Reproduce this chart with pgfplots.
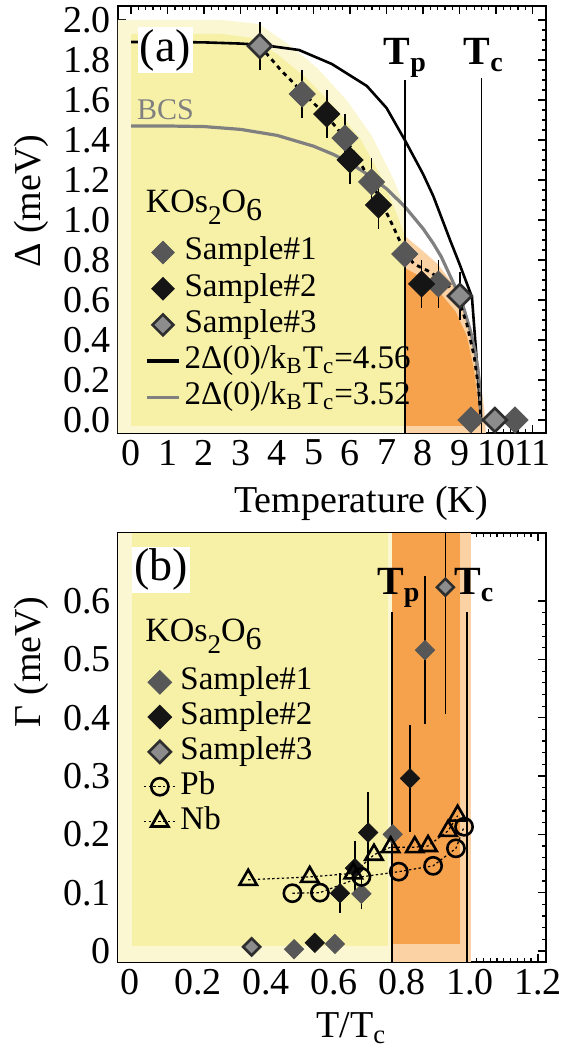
\documentclass[border=0pt]{standalone}
\usepackage{fontspec}
\setmainfont{Liberation Serif}
\usepackage{pgfplots}
\pgfplotsset{compat=1.18}

\definecolor{yel}{HTML}{F7F1A8}
\definecolor{yelsoft}{HTML}{FBF7D2}
\definecolor{orng}{HTML}{F6A24C}
\definecolor{orngsoft}{HTML}{FAD2A4}
\definecolor{sone}{HTML}{575757}
\definecolor{stwo}{HTML}{151515}
\definecolor{sthree}{HTML}{8C8C8C}
\definecolor{sedge}{HTML}{2E2E2E}
\definecolor{bcsgray}{HTML}{808080}

\newcommand{\kos}{KOs\lower6pt\hbox{\fontsize{13.5}{13.5}\selectfont 2}O\lower4pt\hbox{\fontsize{16}{16}\selectfont 6}}

\pgfplotsset{
  gapaxis/.style={
    scale only axis, width=214pt,
    axis line style={line width=1pt},
    tick align=inside,
    major tick length=4pt, minor tick length=2pt,
    major tick style={black, line width=0.7pt},
    minor tick style={black, line width=0.6pt},
    tick label style={font=\fontsize{19}{19}\selectfont},
    label style={font=\fontsize{19}{19}\selectfont},
    /pgf/number format/assume math mode=true,
    legend image code/.code={\draw[mark repeat=2,mark phase=2,##1] plot coordinates {(0pt,0pt)(8pt,0pt)(16pt,0pt)};},
    legend style={draw=none, fill=none, inner sep=0pt, anchor=north west,
      font=\fontsize{16.5}{16.5}\selectfont,
      nodes={inner ysep=0pt, text height=11.5pt, text depth=4pt},
      /tikz/every even column/.append style={column sep=2.5pt}},
    legend cell align=left,
  },
  ebar/.style={error bars/.cd, y dir=both, y explicit,
    error bar style={black, line width=0.8pt},
    error mark options={black, line width=0.8pt, mark size=2pt}, /pgfplots/.cd},
  sA/.style={only marks, mark=square*, mark options={rotate=45, fill=sone, draw=sone, line width=0.4pt}},
  sB/.style={only marks, mark=square*, mark options={rotate=45, fill=stwo, draw=stwo, line width=0.4pt}},
  sC/.style={only marks, mark=square*, mark options={rotate=45, fill=sthree, draw=sedge, line width=1.3pt}},
}

\begin{document}
\begin{tikzpicture}
\useasboundingbox (0,0) rectangle (285.5pt,524pt);

% ---------------- (a) gap vs temperature ----------------
\begin{axis}[gapaxis, at={(59pt,521pt)}, anchor=north west, height=213.5pt,
  xmin=-0.36, xmax=11.37, ymin=-0.065, ymax=2.07,
  xtick={0,1,2,3,4,5,6,7,8,9,10,11}, minor x tick num=4,
  ytick={0,0.2,0.4,0.6,0.8,1.0,1.2,1.4,1.6,1.8,2.0},
  yticklabels={0.0,0.2,0.4,0.6,0.8,1.0,1.2,1.4,1.6,1.8,2.0},
  minor y tick num=3,
  xlabel={Temperature (K)}, ylabel={Δ (meV)},
  xlabel style={at={(axis description cs:0.568,-0.187)}, anchor=base},
  ylabel style={at={(axis description cs:-0.203,0.543)}, anchor=center},
  clip=false,
  legend style={at={(0.063,0.46)}, row sep=2.6pt},
]
% shaded regions
\addplot[draw=none, fill=yelsoft, forget plot] coordinates {
  (-0.36,2.0) (2.5,2.0) (3.5,1.98) (4.3,1.88) (5.1,1.76) (5.9,1.60) (6.6,1.42)
  (7.2,1.20) (7.5,1.06) (7.5,-0.065) (-0.36,-0.065)};
\addplot[draw=none, fill=yel, forget plot] coordinates {
  (0.0,1.93) (2.5,1.93) (3.3,1.91) (4.0,1.83) (4.8,1.71) (5.6,1.56) (6.3,1.40)
  (6.9,1.20) (7.3,1.02) (7.5,0.92) (7.5,-0.03) (0.0,-0.03)};
\addplot[draw=none, fill=orngsoft, forget plot] coordinates {
  (7.5,0.92) (7.9,0.86) (8.4,0.78) (8.9,0.66) (9.25,0.50) (9.5,0.30)
  (9.68,0.05) (9.72,-0.065) (7.5,-0.065)};
\addplot[draw=none, fill=orng, forget plot] coordinates {
  (7.5,0.76) (7.9,0.72) (8.4,0.65) (8.9,0.54) (9.2,0.42) (9.4,0.25)
  (9.53,0.05) (9.56,-0.03) (7.5,-0.03)};

% gap curves
\addplot[black, line width=1.3pt, forget plot] coordinates {
  (0,1.89) (1,1.89) (2,1.888) (3,1.882) (3.6,1.875) (4.6,1.85) (5.5,1.78)
  (6.46,1.67) (7.0,1.56) (7.5,1.40) (8.0,1.23) (8.28,1.12) (8.74,0.90)
  (9.0,0.78) (9.34,0.615) (9.45,0.35) (9.59,0)};
\addplot[bcsgray, line width=1.6pt, forget plot] coordinates {
  (0,1.47) (1,1.47) (2,1.467) (3,1.453) (4,1.423) (5,1.369) (5.54,1.328)
  (6,1.285) (6.46,1.23) (7,1.156) (7.5,1.067) (8,0.957) (8.28,0.883)
  (8.5,0.816) (9,0.619) (9.1,0.569) (9.3,0.445) (9.42,0.347) (9.5,0.26)
  (9.57,0.143) (9.59,0)};

% Tp and Tc
\addplot[black, line width=0.75pt, forget plot] coordinates {(7.5,-0.065) (7.5,1.70)};
\addplot[black, line width=0.75pt, forget plot] coordinates {(9.6,-0.065) (9.6,1.71)};

% samples
\addplot[sA, mark size=4.6pt, ebar, forget plot] coordinates {
  (4.69,1.63) +- (0,0.1) (5.86,1.41) +- (0,0.1) (6.59,1.19) +- (0,0.1)
  (7.5,0.83) +- (0,0.1) (8.42,0.68) +- (0,0.1)};
\addplot[sA, mark size=4.6pt, forget plot] coordinates {(9.31,0) (10.52,0)};
\addplot[sB, mark size=4.6pt, ebar, forget plot] coordinates {
  (5.36,1.53) +- (0,0.1) (6.0,1.30) +- (0,0.1) (6.78,1.075) +- (0,0.1)
  (7.96,0.68) +- (0,0.1)};
\addplot[sC, mark size=4.2pt, ebar, forget plot] coordinates {
  (3.53,1.87) +- (0,0.1) (9.01,0.62) +- (0,0.1)};
\addplot[sC, mark size=4.2pt, forget plot] coordinates {(9.97,0)};

% guide to the eye
\addplot[black, line width=1.4pt, dash pattern=on 2.2pt off 2.2pt, forget plot] coordinates {
  (3.53,1.87) (4.1,1.75) (4.69,1.64) (5.36,1.52) (5.86,1.41) (6.3,1.28)
  (6.78,1.12) (7.2,0.96) (7.5,0.84) (7.75,0.78) (8.2,0.74) (8.7,0.67)
  (9.0,0.59) (9.2,0.48) (9.4,0.32) (9.52,0.16) (9.59,0)};

\addlegendimage{sA, mark size=4pt}
\addlegendentry{Sample\#1}
\addlegendimage{sB, mark size=4pt}
\addlegendentry{Sample\#2}
\addlegendimage{sC, mark size=3.7pt}
\addlegendentry{Sample\#3}
\addlegendimage{black, line width=1.6pt}
\addlegendentry{2Δ(0)/k\textsubscript{B}T\textsubscript{c}=4.56}
\addlegendimage{bcsgray, line width=1.6pt}
\addlegendentry{2Δ(0)/k\textsubscript{B}T\textsubscript{c}=3.52}

\node[font=\fontsize{23}{23}\selectfont, fill=white, inner sep=1pt] at (axis cs:0.94,1.85) {(a)};
\node[font=\fontsize{15}{15}\selectfont, text=bcsgray] at (axis cs:0.94,1.55) {BCS};
\node[font=\fontsize{17}{17}\selectfont, anchor=base west, inner sep=0pt] at (axis cs:0.39,1.035) {\kos};
\node[font=\fontsize{20}{20}\selectfont\bfseries, anchor=base west, inner sep=0pt] at (axis cs:6.91,1.775) {T\textsubscript{p}};
\node[font=\fontsize{20}{20}\selectfont\bfseries, anchor=base west, inner sep=0pt] at (axis cs:9.10,1.775) {T\textsubscript{c}};
\end{axis}

% ---------------- (b) broadening vs reduced temperature ----------------
\begin{axis}[gapaxis, at={(59pt,257.5pt)}, anchor=north west, height=214.5pt,
  xmin=-0.035, xmax=1.224, ymin=-0.019, ymax=0.717,
  xtick={0,0.2,0.4,0.6,0.8,1.0,1.2},
  xticklabels={0,0.2,0.4,0.6,0.8,1.0,1.2}, minor x tick num=9,
  ytick={0,0.1,0.2,0.3,0.4,0.5,0.6},
  yticklabels={0,0.1,0.2,0.3,0.4,0.5,0.6}, minor y tick num=4,
  xlabel={T/T\textsubscript{c}}, ylabel={Γ (meV)},
  xlabel style={at={(axis description cs:0.545,-0.177)}, anchor=base},
  ylabel style={at={(axis description cs:-0.203,0.70)}, anchor=center},
  legend style={at={(0.058,0.689)}, row sep=1.9pt},
]
\addplot[draw=none, fill=yelsoft, forget plot] coordinates {
  (-0.035,-0.019) (0.785,-0.019) (0.785,0.717) (-0.035,0.717)};
\addplot[draw=none, fill=yel, forget plot] coordinates {
  (0.005,0.008) (0.76,0.008) (0.76,0.717) (0.005,0.717)};
\addplot[draw=none, fill=orngsoft, forget plot] coordinates {
  (0.771,-0.019) (1.003,-0.019) (1.003,0.717) (0.771,0.717)};
\addplot[draw=none, fill=orng, forget plot] coordinates {
  (0.771,0.012) (0.972,0.012) (0.972,0.717) (0.771,0.717)};

\addplot[black, line width=0.75pt, forget plot] coordinates {(0.771,-0.019) (0.771,0.582)};
\addplot[black, line width=0.75pt, forget plot] coordinates {(0.991,-0.019) (0.991,0.582)};

\addplot[sA, mark size=3.4pt, ebar, forget plot] coordinates {
  (0.681,0.098) +- (0,0.02) (0.773,0.20) +- (0,0.06) (0.868,0.516) +- (0,0.12)};
\addplot[sA, mark size=3.4pt, forget plot] coordinates {(0.483,0.003) (0.603,0.012)};
\addplot[sB, mark size=3.4pt, ebar, forget plot] coordinates {
  (0.618,0.099) +- (0,0.027) (0.662,0.142) +- (0,0.04) (0.701,0.203) +- (0,0.062)
  (0.824,0.296) +- (0,0.085)};
\addplot[sB, mark size=3.4pt, forget plot] coordinates {(0.544,0.014)};
\addplot[sC, mark size=3.0pt, ebar, forget plot] coordinates {(0.928,0.624) +- (0,0.21)};
\addplot[sC, mark size=3.0pt, forget plot] coordinates {(0.358,0.007)};

\addplot[black, dash pattern=on 1.2pt off 1.2pt, line width=0.6pt, mark=o, mark size=4.3pt,
  mark options={solid, line width=1.3pt}, forget plot] coordinates {
  (0.478,0.099) (0.559,0.10) (0.681,0.127) (0.791,0.136) (0.892,0.146)
  (0.959,0.176) (0.983,0.213)};
\addplot[black, dash pattern=on 1.2pt off 1.2pt, line width=0.6pt, mark=triangle, mark size=5pt,
  mark options={solid, line width=1.3pt}, forget plot] coordinates {
  (0.348,0.122) (0.529,0.127) (0.657,0.133) (0.718,0.165) (0.767,0.178)
  (0.838,0.178) (0.877,0.18) (0.936,0.206) (0.964,0.232)};

\addlegendimage{sA, mark size=4.2pt}
\addlegendentry{Sample\#1}
\addlegendimage{sB, mark size=4.2pt}
\addlegendentry{Sample\#2}
\addlegendimage{sC, mark size=3.9pt}
\addlegendentry{Sample\#3}
\addlegendimage{black, dash pattern=on 1.2pt off 1.2pt, line width=0.6pt, mark=o, mark size=4.3pt, mark options={solid, line width=1.3pt}}
\addlegendentry{Pb}
\addlegendimage{black, dash pattern=on 1.2pt off 1.2pt, line width=0.6pt, mark=triangle, mark size=5pt, mark options={solid, line width=1.3pt}}
\addlegendentry{Nb}

\node[font=\fontsize{23}{23}\selectfont, fill=white, inner sep=1pt] at (axis cs:0.091,0.654) {(b)};
\node[font=\fontsize{17}{17}\selectfont, anchor=base west, inner sep=0pt] at (axis cs:0.044,0.53) {\kos};
\node[font=\fontsize{20}{20}\selectfont\bfseries, anchor=base west, inner sep=0pt] at (axis cs:0.726,0.611) {T\textsubscript{p}};
\node[font=\fontsize{20}{20}\selectfont\bfseries, anchor=base west, inner sep=0pt] at (axis cs:0.953,0.611) {T\textsubscript{c}};
\end{axis}
\end{tikzpicture}
\end{document}
